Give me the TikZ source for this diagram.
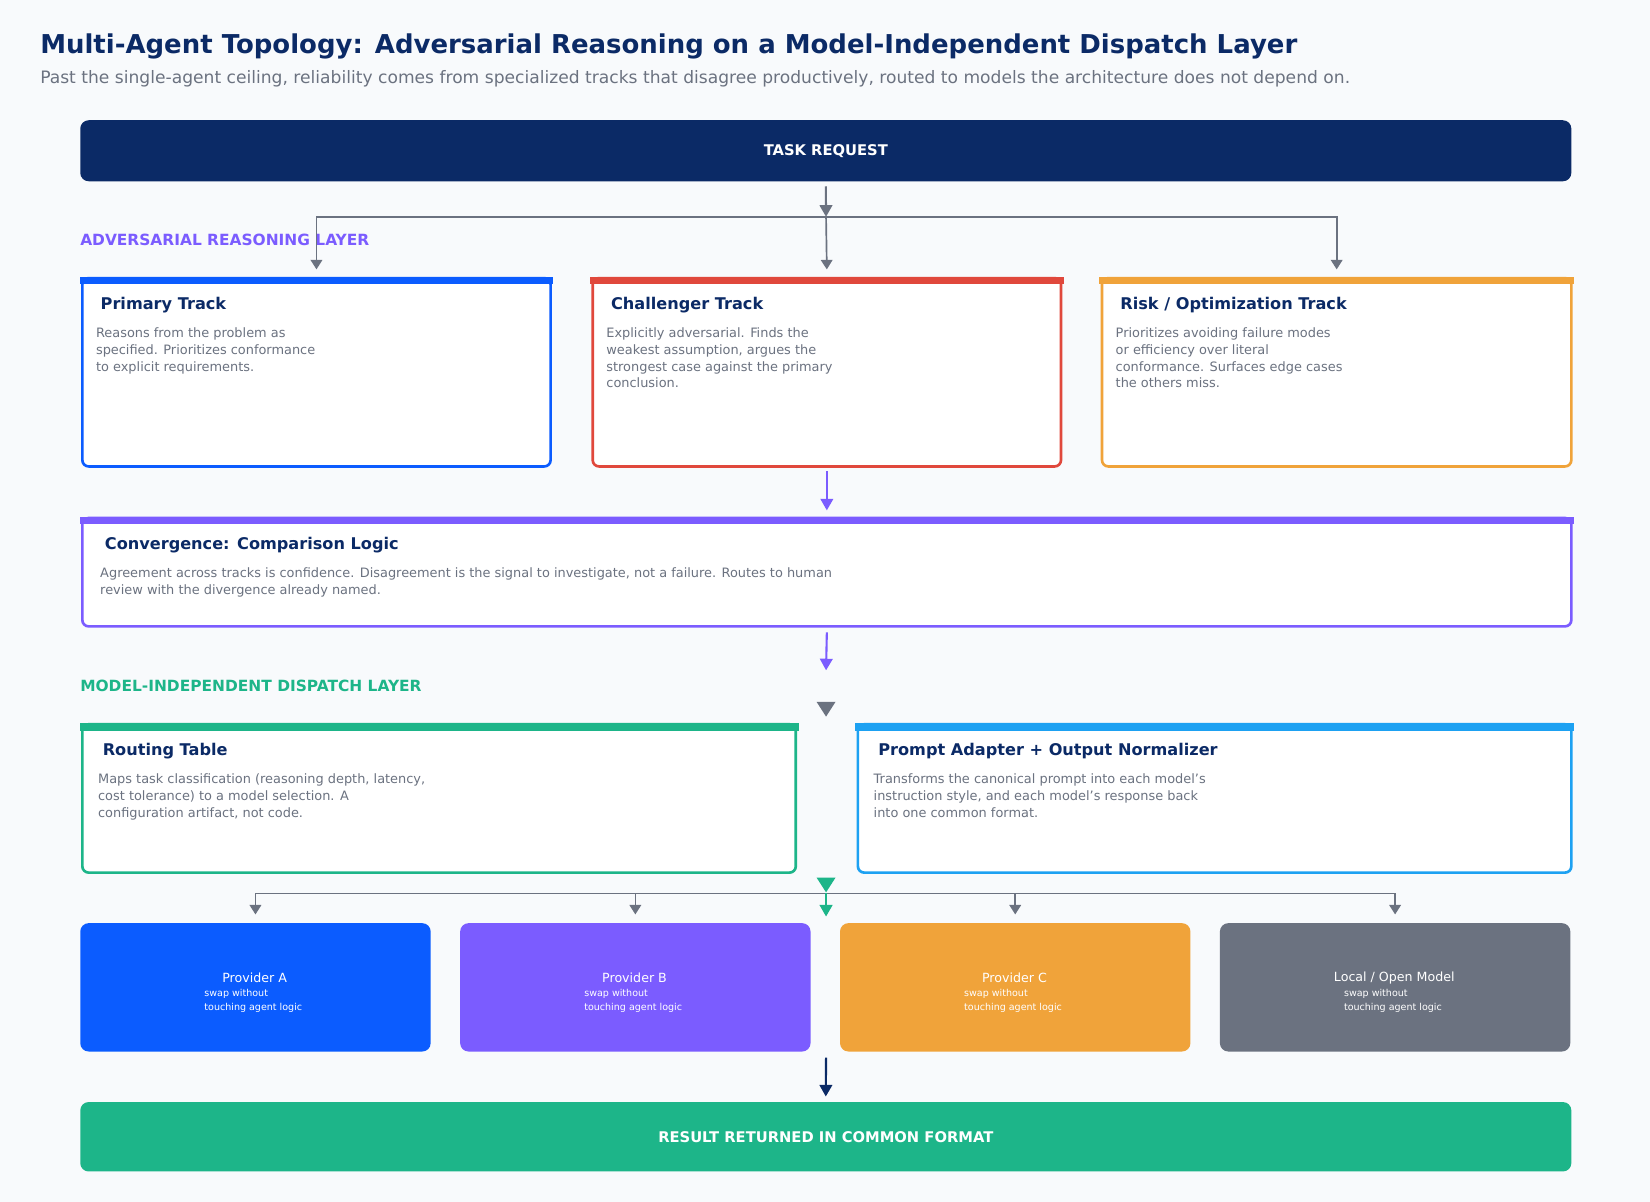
\documentclass[tikz,border=0pt]{standalone}
\usepackage{fontspec}
\setmainfont{DejaVu Sans}
\usetikzlibrary{arrows.meta}
\newcommand\pu{0.75pt}
\definecolor{bgc}{HTML}{F8FAFC}
\definecolor{navy}{HTML}{0B2A66}
\definecolor{greyc}{HTML}{6B7280}
\definecolor{blu}{HTML}{0B5CFF}
\definecolor{redc}{HTML}{E0483C}
\definecolor{orng}{HTML}{F0A33A}
\definecolor{purp}{HTML}{7B5CFF}
\definecolor{grn}{HTML}{1DB589}
\definecolor{sky}{HTML}{1DA1F2}
\tikzset{
  card/.style={draw=#1, fill=white, line width=2.5*\pu, rounded corners=6*\pu, anchor=north west, inner sep=0pt},
  solid box/.style={fill=#1, rounded corners=8*\pu, anchor=north west, inner sep=0pt},
  ttl/.style={anchor=west, text=navy, font=\fontsize{11.5}{14}\selectfont\bfseries},
  body/.style={anchor=north west, align=left, text=greyc, inner sep=0pt, font=\fontsize{9.2}{12}\selectfont},
  layer/.style={anchor=west, inner sep=0pt, font=\fontsize{11}{13}\selectfont\bfseries},
  arr/.style={draw=#1, line width=2*\pu, -{Triangle[width=12*\pu,length=11*\pu]}},
  link/.style={draw=greyc, line width=1.6*\pu, -{Triangle[width=11*\pu,length=9*\pu]}},
  prov/.style={text=white, font=\fontsize{9}{11}\selectfont},
  provsub/.style={text=white, anchor=north west, align=left, inner sep=0pt, font=\fontsize{6.8}{10}\selectfont}
}
\begin{document}
\begin{tikzpicture}[x=\pu, y=-\pu]
\fill[bgc] (0,0) rectangle (1568,1142);
\useasboundingbox (0,0) rectangle (1568,1142);

% heading
\node[anchor=west, inner sep=0pt, text=navy, font=\fontsize{18.5}{22}\selectfont\bfseries] (title) at (38,44) {Multi-Agent Topology: Adversarial Reasoning on a Model-Independent Dispatch Layer};
\node[anchor=west, inner sep=0pt, text=greyc, font=\fontsize{12.2}{15}\selectfont] (subtitle) at (38,75) {Past the single-agent ceiling, reliability comes from specialized tracks that disagree productively, routed to models the architecture does not depend on.};

% task request
\node[solid box=navy, minimum width=1417*\pu, minimum height=58*\pu] (req) at (76,114) {};
\node[text=white, font=\fontsize{10.5}{13}\selectfont\bfseries] at (req.center) {TASK REQUEST};

\node[layer, text=purp] (advlbl) at (76,228) {ADVERSARIAL REASONING LAYER};

% tracks
\node[card=blu, minimum width=445*\pu, minimum height=179*\pu] (primary) at (77,263) {};
\node[card=redc, minimum width=445*\pu, minimum height=179*\pu] (challenger) at (562,263) {};
\node[card=orng, minimum width=446*\pu, minimum height=179*\pu] (risk) at (1046,263) {};
\fill[blu] ([xshift=-1pt]primary.north west) rectangle ([xshift=1pt,yshift=-5.5pt]primary.north east);
\fill[redc] ([xshift=-1pt]challenger.north west) rectangle ([xshift=1pt,yshift=-5.5pt]challenger.north east);
\fill[orng] ([xshift=-1pt]risk.north west) rectangle ([xshift=1pt,yshift=-5.5pt]risk.north east);
\node[ttl] at (91,290) {Primary Track};
\node[body] at (91,311) {Reasons from the problem as\\specified. Prioritizes conformance\\to explicit requirements.};
\node[ttl] at (576,290) {Challenger Track};
\node[body] at (576,311) {Explicitly adversarial. Finds the\\weakest assumption, argues the\\strongest case against the primary\\conclusion.};
\node[ttl] at (1060,290) {Risk / Optimization Track};
\node[body] at (1060,311) {Prioritizes avoiding failure modes\\or efficiency over literal\\conformance. Surfaces edge cases\\the others miss.};

\coordinate (fork) at (785,206);
\draw[arr=greyc] (req.south |- 0,177) -- (fork);
\draw[link] (fork) -| (primary.north |- 0,256);
\draw[link] (fork) -- (challenger.north |- 0,256);
\draw[link] (fork) -| (risk.north |- 0,256);

% convergence
\node[card=purp, minimum width=1415*\pu, minimum height=103*\pu] (conv) at (77,491) {};
\fill[purp] ([xshift=-1pt]conv.north west) rectangle ([xshift=1pt,yshift=-5.5pt]conv.north east);
\node[ttl] at (95,518) {Convergence: Comparison Logic};
\node[body] at (95,539) {Agreement across tracks is confidence. Disagreement is the signal to investigate, not a failure. Routes to human\\review with the divergence already named.};
\draw[arr=purp] (challenger.south |- 0,448) -- (conv.north |- 0,485);

\node[layer, text=grn] (displbl) at (76,652) {MODEL-INDEPENDENT DISPATCH LAYER};
\coordinate (dispin) at (785,637);
\draw[arr=purp] (conv.south |- 0,601) -- (dispin);
\fill[greyc] (776,667) -- (794,667) -- (785,681) -- cycle;

% dispatch
\node[card=grn, minimum width=678*\pu, minimum height=141*\pu] (routing) at (77,687) {};
\node[card=sky, minimum width=678*\pu, minimum height=141*\pu] (adapter) at (814,687) {};
\fill[grn] ([xshift=-1pt]routing.north west) rectangle ([xshift=1pt,yshift=-5.5pt]routing.north east);
\fill[sky] ([xshift=-1pt]adapter.north west) rectangle ([xshift=1pt,yshift=-5.5pt]adapter.north east);
\node[ttl] at (93,714) {Routing Table};
\node[body] at (93,735) {Maps task classification (reasoning depth, latency,\\cost tolerance) to a model selection. A\\configuration artifact, not code.};
\node[ttl] at (830,714) {Prompt Adapter + Output Normalizer};
\node[body] at (830,735) {Transforms the canonical prompt into each model's\\instruction style, and each model's response back\\into one common format.};

% providers
\node[solid box=blu, minimum width=333*\pu, minimum height=122*\pu] (provA) at (76,877) {};
\node[solid box=purp, minimum width=333*\pu, minimum height=122*\pu] (provB) at (437,877) {};
\node[solid box=orng, minimum width=333*\pu, minimum height=122*\pu] (provC) at (798,877) {};
\node[solid box=greyc, minimum width=333*\pu, minimum height=122*\pu] (provL) at (1159,877) {};
\node[prov] at (242,929) {Provider A};
\node[provsub] at (194,940) {swap without\\touching agent logic};
\node[prov] at (603,929) {Provider B};
\node[provsub] at (555,940) {swap without\\touching agent logic};
\node[prov] at (964,929) {Provider C};
\node[provsub] at (916,940) {swap without\\touching agent logic};
\node[prov] at (1325,929) {Local / Open Model};
\node[provsub] at (1277,940) {swap without\\touching agent logic};

\coordinate (bus) at (785,849);
\draw[draw=greyc, line width=1.6*\pu] (provA.north |- bus) -- (provL.north |- bus);
\foreach \p in {provA,provB,provC,provL}
  \draw[link] (\p.north |- bus) -- (\p.north |- 0,869);
\fill[grn] (776,834) -- (794,834) -- (785,848) -- cycle;
\draw[arr=grn] (bus) -- (785,871);

% result
\node[solid box=grn, minimum width=1417*\pu, minimum height=66*\pu] (result) at (76,1047) {};
\node[text=white, font=\fontsize{10.5}{13}\selectfont\bfseries] at (result.center) {RESULT RETURNED IN COMMON FORMAT};
\draw[arr=navy] (785,1005) -- (result.north |- 0,1042);
\end{tikzpicture}
\end{document}
